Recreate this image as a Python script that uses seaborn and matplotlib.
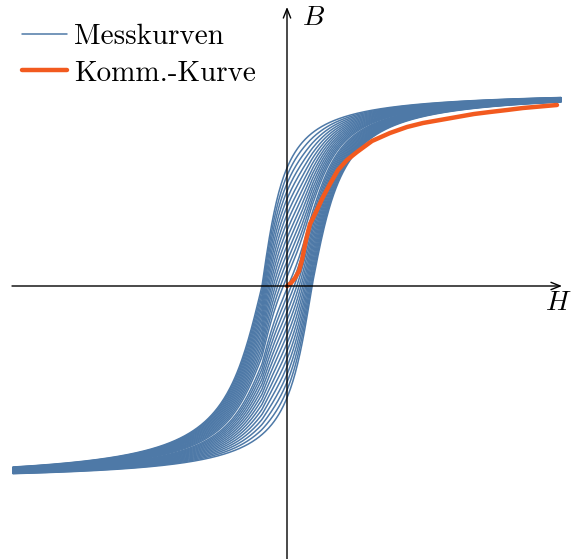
import numpy as np
import pandas as pd
import seaborn as sns
import matplotlib
matplotlib.use("Agg")
import matplotlib.pyplot as plt
from matplotlib.lines import Line2D

sns.set_theme(style="white")
plt.rcParams["font.family"] = ["cmr10", "DejaVu Serif"]
plt.rcParams["mathtext.fontset"] = "cm"
plt.rcParams["axes.unicode_minus"] = False
plt.rcParams["text.color"] = "black"

BLUE = "#4e79a7"
ORANGE = "#f25a1f"

# remanent flux density of each measured loop (outer -> inner)
remanence = [1.18, 1.10, 1.02, 0.94, 0.86, 0.78, 0.70, 0.62,
             0.54, 0.46, 0.38, 0.30, 0.22, 0.14, 0.06]
H_max = 2.74          # field amplitude of the measurement
H_c = 0.25            # coercive field of the outermost loop
B_sat = 1.96          # asymptotic flux density of the branch model
# knee widths (rising side, trailing side) of the two outer branches
knee_upper = (0.18, 0.30)
knee_lower = (0.20, 0.24)

# commutation curve (loop tips)
komm_H = [0.00, 0.04, 0.08, 0.12, 0.15, 0.17, 0.19, 0.23, 0.29, 0.36, 0.43,
          0.51, 0.60, 0.70, 0.85, 1.03, 1.20, 1.36, 1.53, 1.70, 1.87, 2.03,
          2.20, 2.36, 2.53, 2.70]
komm_B = [0.00, 0.03, 0.08, 0.15, 0.26, 0.36, 0.46, 0.62, 0.74, 0.89, 1.02,
          1.16, 1.26, 1.34, 1.45, 1.53, 1.59, 1.63, 1.66, 1.69, 1.72, 1.74,
          1.76, 1.78, 1.795, 1.81]


def branch(h, knee):
    a = np.where(h >= 0, knee[0], knee[1])
    return B_sat * 2 / np.pi * np.arctan(h / a)


H = np.linspace(-H_max, H_max, 700)
upper0 = branch(H + H_c, knee_upper)       # descending branch, outer loop
lower0 = -branch(-H + H_c, knee_lower)     # ascending branch, outer loop
centre = (upper0 + lower0) / 2

rows = []
for i, br in enumerate(remanence):
    s = br / remanence[0]
    for name, b in (("up", centre + s * (upper0 - centre)),
                    ("lo", centre + s * (lower0 - centre))):
        rows.append(pd.DataFrame({"H": H, "B": b, "curve": f"{i}-{name}"}))
loops = pd.concat(rows, ignore_index=True)
komm = pd.DataFrame({"H": komm_H, "B": komm_B})

fig = plt.figure(figsize=(5.71, 5.59), dpi=100)
ax = fig.add_axes([0, 0, 1, 1])

sns.lineplot(data=loops, x="H", y="B", units="curve", estimator=None,
             sort=False, color=BLUE, lw=1.1, ax=ax, legend=False)
sns.lineplot(data=komm, x="H", y="B", estimator=None, sort=False,
             color=ORANGE, lw=3.2, ax=ax, legend=False)

ax.set_xlim(-2.87, 2.84)
ax.set_ylim(-2.73, 2.86)
ax.set_axis_off()

# coordinate axes with arrow heads
arrow = dict(arrowstyle="->,head_length=0.55,head_width=0.22", lw=1.0,
             color="black", shrinkA=0, shrinkB=0)
ax.annotate("", xy=(2.75, 0), xytext=(-2.75, 0), arrowprops=arrow)
ax.annotate("", xy=(0, 2.79), xytext=(0, -2.75), arrowprops=arrow)
ax.text(0.26, 2.68, r"$B$", fontsize=20, ha="center", va="center")
ax.text(2.71, -0.17, r"$H$", fontsize=20, ha="center", va="center")

handles = [Line2D([], [], color=BLUE, lw=1.1),
           Line2D([], [], color=ORANGE, lw=3.2)]
ax.legend(handles, ["Messkurven", "Komm.-Kurve"], loc="upper left",
          bbox_to_anchor=(0.038, 0.958), frameon=False, fontsize=21,
          handlelength=1.54, handletextpad=0.27, labelspacing=0.35,
          borderpad=0, borderaxespad=0, labelcolor="black")

fig.savefig("out.png", dpi=100)
